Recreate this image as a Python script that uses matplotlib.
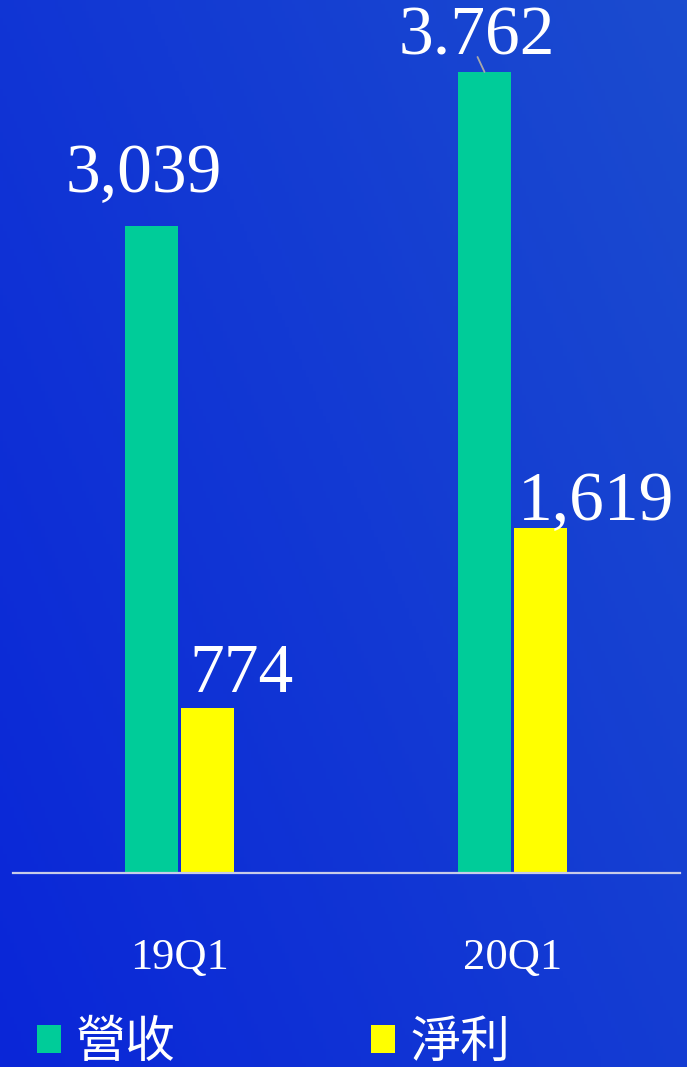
import numpy as np
import matplotlib
matplotlib.use("Agg")
import matplotlib.pyplot as plt
from matplotlib.colors import LinearSegmentedColormap

categories = ["19Q1", "20Q1"]
revenue = [3039, 3762]
profit = [774, 1619]
revenue_labels = ["3,039", "3.762"]
profit_labels = ["774", "1,619"]
legend_names = ["營收", "淨利"]

W, H = 687, 1067
fig = plt.figure(figsize=(W / 100, H / 100), dpi=100)

# background gradient
bg = fig.add_axes([0, 0, 1, 1], zorder=-10)
xx, yy = np.meshgrid(np.linspace(0, 1, 200), np.linspace(0, 1, 300))
grad = 0.6 * xx + 0.4 * yy
cmap = LinearSegmentedColormap.from_list("bg", ["#0a26d8", "#1b4ccf"])
bg.imshow(grad, cmap=cmap, aspect="auto", origin="lower", extent=[0, 1, 0, 1])
bg.axis("off")

left, right = 13 / W, 680 / W
bottom = (H - 873) / H
ax = fig.add_axes([left, bottom, right - left, 1 - bottom])
ax.patch.set_alpha(0)

x = np.arange(len(categories))
bw = 53 / 333
off = 28 / 333
green = "#00cc99"
yellow = "#ffff00"
b1 = ax.bar(x - off, revenue, width=bw, color=green, label=legend_names[0])
b2 = ax.bar(x + off, profit, width=bw, color=yellow, label=legend_names[1])

ax.set_xlim(-0.5, 1.503)
ax.set_ylim(0, 4100)

for s in ["top", "left", "right"]:
    ax.spines[s].set_visible(False)
ax.spines["bottom"].set_color("#c8cce8")
ax.spines["bottom"].set_linewidth(1.6)
ax.set_yticks([])
ax.set_xticks(x)
ax.set_xticklabels(categories, fontsize=32, color="white", family="Liberation Serif")
ax.tick_params(axis="x", length=0, pad=47)

px = 0.72  # points per pixel
lab_font = dict(fontsize=50, color="white", family="Liberation Serif", ha="center", va="baseline")

# revenue labels
rev_offsets = [(-8, 34), (-8, 17)]
for i, (v, t) in enumerate(zip(revenue, revenue_labels)):
    dx, dy = rev_offsets[i]
    ax.annotate(t, xy=(x[i] - off, v), xytext=(dx * px, dy * px), textcoords="offset points", **lab_font)
# leader line for the second revenue label
ax.annotate("", xy=(x[1] - off, revenue[1]), xytext=(-7 * px, 15 * px), textcoords="offset points",
            arrowprops=dict(arrowstyle="-", color="#a8a8a8", lw=1.3, shrinkA=0, shrinkB=0))

prof_offsets = [(34, 16), (55.5, 8)]
for i, (v, t) in enumerate(zip(profit, profit_labels)):
    dx, dy = prof_offsets[i]
    ax.annotate(t, xy=(x[i] + off, v), xytext=(dx * px, dy * px), textcoords="offset points", **lab_font)

leg = fig.legend(handles=[b1, b2], labels=legend_names, loc="center left",
                 bbox_to_anchor=(37 / W, 1 - 1043 / H), bbox_transform=fig.transFigure,
                 ncol=2, frameon=False, borderpad=0, borderaxespad=0,
                 handlelength=0.48, handleheight=0.48, handletextpad=0.3, columnspacing=3.9,
                 prop={"family": ["Noto Sans CJK TC", "DejaVu Sans"], "size": 36})
for t in leg.get_texts():
    t.set_color("white")

fig.savefig("out.png", dpi=100)
